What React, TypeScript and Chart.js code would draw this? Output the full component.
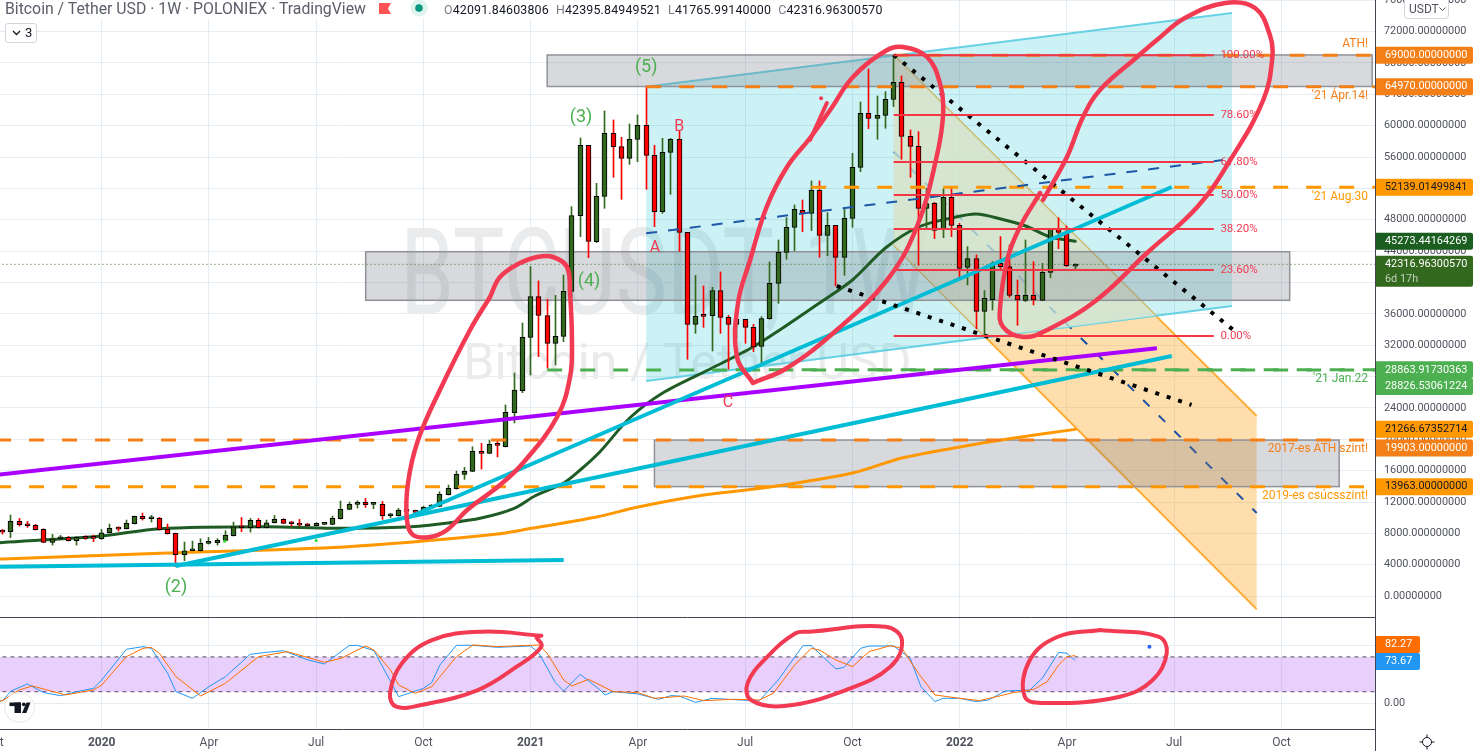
import React, { useEffect, useRef } from "react";
import { Chart, registerables } from "chart.js";

Chart.register(...registerables);

// ---- weekly candles (index 0 = first visible week, 130 = last week) ----
const opens = [8250,8210,9530,9145,9020,8510,6850,7320,7490,7060,7445,7400,7320,8080,8635,8590,9230,10165,9870,9910,8505,8000,5275,5785,5785,6720,6805,7105,7700,8845,8720,9655,8720,9360,9785,9270,9270,9100,8975,9145,9145,9870,11060,11695,11950,11695,11695,10250,10250,10930,10805,10635,11315,11440,12930,13695,15520,15905,18455,18200,19305,19056,23392,26198,33010,38197,35773,32244,33137,38877,48528,57500,45212,50994,59030,57329,55841,58265,60051,56224,49038,56606,58265,46402,34668,35816,35773,38962,35561,34668,35306,34285,31861,35391,39897,43851,47040,49209,48826,51760,46020,47296,43214,48188,54693,61581,60943,61326,63367,65535,58647,57371,49464,50101,46785,50866,47296,41938,43044,36326,37814,42448,42023,38367,37730,38367,37730,41300,46785,46402,42091.85];
const highs = [8510,10335,9910,9530,9145,8590,7870,7740,7615,7570,7700,7785,8505,9190,8845,9700,10210,10590,10295,10040,9190,8040,6890,7020,7320,7485,7320,8335,9440,10040,9910,9910,9700,10295,9870,9525,9780,9270,9360,9270,10210,12120,11995,12165,12460,11950,12080,10550,11185,11015,10975,11485,11695,13310,14160,15950,16415,19050,19475,19900,19755,24375,28456,34834,42023,40195,37857,38367,40960,49676,58434,57500,52652,61879,60730,58520,60220,61368,64970,57500,58392,58392,59370,46402,40918,39558,39387,41343,35816,36581,35306,34668,35646,42619,45425,48273,49889,50527,52950,52950,48911,47296,49464,56479,63027,67235,63792,64344,69000,66343,59455,59242,52015,50229,51972,52227,47550,44573,43511,38962,42661,45850,44787,40323,45425,42661,42448,46870,48273,47210,42395.85];
const lows = [7910,7445,8930,8760,8420,6805,6510,7230,7020,6510,7230,6935,7230,8040,8295,8550,9190,9700,9440,8420,7910,3745,4510,5785,5745,6635,6510,7060,7655,8210,8170,8680,8680,9315,9230,8930,8930,8930,8930,9100,9100,9825,11015,11230,11315,11145,9780,9995,10210,10760,10550,10590,11270,11400,12885,13650,14885,15860,16200,18160,17750,19018,22079,25943,28205,30544,29056,29481,32457,38197,45850,43171,45085,49464,53417,50612,55076,55416,51887,47125,48826,51250,43979,30204,33520,34285,31267,33520,28928,32882,32244,31182,29481,35306,37346,42959,44064,46487,46615,43214,43426,39558,40918,47040,54140,59625,58265,59668,62431,55714,53417,42194,46913,45595,45722,45850,40620,39685,34116,33087,36496,41683,38112,34541,37559,37134,37730,40620,44320,42023,41765.99];
const closes = [8170,9530,9100,8975,8465,6850,7320,7445,7060,7490,7360,7360,8080,8635,8550,9270,10165,9870,9910,8465,7955,5275,5785,5870,6720,6850,7105,7740,8845,8720,9655,8720,9360,9785,9270,9230,9060,8975,9270,9230,9910,11060,11695,11950,11650,11740,10250,10335,10930,10805,10675,11315,11440,12970,13735,15520,15905,18455,18200,19350,19220,23444,26288,33010,38197,35816,32244,33137,38877,48528,57500,45254,50994,59030,57329,55841,58265,60051,56224,49038,56606,58265,46402,34668,35688,35688,38962,35561,34668,35306,34285,31777,35391,39897,43851,47040,49336,48784,51760,46020,47296,43214,48188,54693,61581,60943,61326,63367,65535,58647,57371,49464,50059,46657,50866,47296,41811,43044,36326,37984,42448,42023,38367,37772,38367,37772,41300,46870,46402,42150,42316.96];

// ---- moving averages: [week, price] ----
const ma50: number[][] = [[-1,6760],[0,6836],[12,7666],[19,8597],[32,8852],[40,8648],[49,8814],[54,9324],[58,9962],[62,11199],[64.5,12767],[68,14426],[70,16084],[72.4,18418],[76,22717],[80,25906],[86,29095],[91,31811],[94,33813],[99,37385],[103,40319],[107,44400],[111,47079],[115,48227],[118,48737],[121,48099],[124,47206],[127,45803],[130,45273]];
const ma200: number[][] = [[-1,4700],[0,4732],[20,5497],[40,6199],[51,7028],[60,7921],[63,8431],[72,10089],[77,11364],[85,12895],[93,13915],[103,15701],[109,17615],[116,19018],[121,19910],[130,21267]];

// ---- stochastic RSI: [week, value] ----
const stochK: number[][] = [[-1,3],[0,4.6],[1,21.2],[3,33.3],[5,18.4],[7,13.2],[9,20.1],[11,25.8],[12,40.2],[15,93.1],[17,97.7],[18,94.8],[20,51.7],[21,20.1],[23,8.6],[25,28.7],[27,45.9],[30,84.5],[32,87.9],[34,90.8],[37,74.7],[39,67.8],[42,99.4],[43,100],[45,90.8],[48,11.5],[51,25.8],[52,35.6],[53,66.1],[55,100],[57,100],[60,96.5],[62,97.7],[64,98.8],[65,86.2],[67,35.6],[68,21.2],[70,50],[72.4,23],[73,14.4],[74,20.1],[77,16.1],[79.5,6.9],[81,13.2],[82,12.6],[84,1.7],[86,8.6],[88,6.9],[91.7,4],[94,40.2],[97,99.4],[98,99.4],[101,59.2],[102,62.1],[104,94.8],[105,98.8],[108,98.8],[110,77.6],[111.3,28.7],[113,2.9],[114,8.6],[116,8.6],[118,2.9],[119.5,5.7],[121.5,21.2],[124.5,23],[126,43.1],[128,87.9],[129,86.2],[130,73.67]];
const stochD: number[][] = [[-1,3],[0,4.6],[2,23],[3.6,29.9],[5.7,21.8],[7.6,14.4],[11,23],[12,31.6],[15,80.4],[17,94.8],[18,96.5],[19,86.2],[21,46],[24,12.6],[27,34.5],[31,80.4],[34.5,89],[39,70.7],[41,77.6],[44,98.8],[45,91.9],[47,57.5],[48,31.6],[50,17.2],[52,28.7],[55,80.4],[57,100.6],[60,97.7],[65,100.6],[66,86.2],[68,40.2],[69,29.9],[71,41.4],[72.4,31.6],[74,20.1],[77,18.4],[79,8.6],[82.6,12.6],[85,4.6],[88.6,6.9],[91.7,5.7],[93.4,17.2],[96,66.1],[98,94.8],[99,91.9],[101,74.7],[103,63.2],[105,89],[107.6,99.4],[109,94.8],[111,51.7],[113,14.4],[116,8.6],[118.4,4.6],[122.5,18.4],[125,24.1],[126.6,37.3],[128,66.1],[129,80.4],[130,82.27]];

// ---- axes ----
const yTicks = [0,4000,8000,12000,16000,20000,24000,28000,32000,36000,40000,44000,48000,52000,56000,60000,64000,68000,72000,76000];
const xTicks = [-1,12,25,38,51,64,77,90,103,116,129,142,155];
const xLabels = ["Oct","2020","Apr","Jul","Oct","2021","Apr","Jul","Oct","2022","Apr","Jul","Oct"];

// ---- hand drawn levels and trend lines: [week, price] ----
const level69000 = [[108,69000],[167,69000]];
const level64970 = [[78,64970],[167,64970]];
const level52139 = [[98,52139.01],[167,52139.01]];
const level28826 = [[66,28826.53],[167,28826.53]];
const level28863 = [[88.85,28863.92],[167,28863.92]];
const level19903 = [[-0.8,19903],[167,19903]];
const level13963 = [[-0.8,13963],[167,13963]];
const lastPriceLine = [[-1,42316.96],[167,42316.96]];
const trendFlat = [[-1,3750],[68,4605]];
const trendLow = [[21,3839],[141.7,30625]];
const trendSteep = [[49,9961],[141.7,52180]];
const trendPurple = [[-1,15446],[139.9,31607]];
const navyUp = [[78,46275],[147.9,55625]];
const navyDown = [[108,56684],[152,10599]];
const dottedDown = [[108,69020],[149.1,34000]];
const dottedLow = [[101.1,39553],[144.1,24380]];
const fibLevels = [69000,61364,55373,51163,46825,41596,33176];
const fibNames = ["100.00%","78.60%","61.80%","50.00%","38.20%","23.60%","0.00%"];
const cyanTop = [[78,64970],[149,74375]];
const cyanBottom = [[78,27436],[149,37002]];
const orangeTop = [[108,69000],[152,22972]];
const orangeBottom = [[108,44783],[152,-1684]];
const zoneLeft = [66,44,79];
const zoneRight = [166,156,162];
const zoneTop = [69020,43927,19903];
const zoneBottom = [65000,37729,13963];

// ---- freehand red strokes ----
const loopA = [[59.07,38150],[56.65,33941],[53,26288],[50.35,19910],[49.13,14426],[49,9706],[49.74,7793],[51.8,7538],[53.85,8431],[56.3,10982],[60.28,14171],[63.07,16977],[67.2,22844],[68.77,27946],[69,32665],[68.77,38660],[68.4,41977],[66.7,43252],[64.77,43252],[62.7,42487],[60.28,40701],[59.07,38150]];
const loopB = [[90.95,27181],[89,30497],[89.13,37385],[90.6,42870],[92.6,49630],[95.07,54732],[97.86,58431],[100.3,62002],[103.07,66211],[107.2,69655],[109.1,70038],[112.04,68762],[113.6,65446],[114,61619],[113.2,56007],[110.8,47079],[107.2,40319],[101.1,33941],[95.07,29094],[90.95,27181]];
const strokeB = [[97.86,58176],[99.9,62894]];
const loopC = [[125.74,51415],[123.3,47079],[121.86,43252],[120.9,36875],[121.25,34325],[123.7,33048],[126.6,33941],[132.6,37767],[138.7,43762],[144.8,49630],[148.8,55625],[152.8,63277],[153.9,68762],[153.6,71568],[151.8,75012],[148.2,75649],[143.3,73737],[139.9,70930],[137.5,68762],[133,64553],[130.95,61109],[129,56007],[126.1,50523]];
const ovalA = [[65.3,116.6],[58.1,123.4],[52.04,109.1],[48.4,69],[46.95,17.2],[47.7,-5.9],[50.7,-2.9],[57.6,22.9],[62.3,63.1],[65.3,97.6],[64.65,114.8]];
const ovalB = [[97.8,123.4],[107,132.1],[109,109.1],[107.6,63.1],[102.2,22.9],[94.7,-4.7],[90.7,5.7],[90.3,35],[92.7,80.3],[96.1,120.7],[97.8,123.4]];
const ovalC = [[133,126.4],[140.1,114.8],[141.1,86.7],[139.4,40.2],[135.4,11.4],[126.6,0.5],[123.9,11.4],[124.5,74.7],[127.9,114.8],[133,126.4]];
const redSpot = [[99.2,63500]];
const limeSpots = [[26.9,7000],[38,7100]];
const blueSpot = [[139,97.6]];

// ---- chart notes ----
const waveText = ["(5)","(3)","(4)","(2)"];
const waveWeek = [78,70.1,71.07,21];
const wavePrice = [67487,60982,40191,1033];
const abcText = ["A","B","C"];
const abcWeek = [79.07,82,87.92];
const abcPrice = [44400,59833,24630];
const sideText = ["ATH!","'21 Ápr.14!","'21 Aug.30","'21 Jan.22","2017-es ATH szint!","2019-es csúcsszint!"];
const sidePrice = [70420,63790,50905,27690,18725,12770];
const sideColor = ["#f57f17","#f57f17","#ff9800","#4caf50","#f57f17","#ff9800"];
const tagPrice = [69000,64970,52139.01499841,45273.44164269,42316.9630057,28863.91730363,28826.53061224,21266.67352714,19903,13963];
const tagFill = ["#f57f17","#f57f17","#ff9800","#1b5e20","#33691e","#4caf50","#4caf50","#ff9800","#f57f17","#ff9800"];
const tagInk = ["#fff","#fff","#131722","#fff","#fff","#fff","#fff","#131722","#fff","#131722"];
const tagNudge = [0,0,0,0,0,0,16.5,0,8,0];

const RED = "#f23a52";
const pts = (a: number[][]) => a.map(([x, y]) => ({ x, y }));
const UI = "Roboto, 'Liberation Sans', sans-serif";

const straight = (data: number[][], color: string, width: number, order: number, dash: number[] = [], yAxisID = "y") => ({
  type: "line", data: pts(data), borderColor: color, borderWidth: width, borderDash: dash,
  pointRadius: 0, tension: 0, order, yAxisID, xAxisID: "x", fill: false,
});
const curve = (data: number[][], color: string, width: number, order: number, yAxisID = "y", tension = 0.4) => ({
  type: "line", data: pts(data), borderColor: color, borderWidth: width, pointRadius: 0, tension,
  capBezierPoints: false, order, yAxisID, xAxisID: "x", fill: false, borderCapStyle: "round", borderJoinStyle: "round",
});
const spots = (data: number[][], color: string, r: number, yAxisID = "y") => ({
  type: "line", data: pts(data), showLine: false, pointRadius: r, pointBackgroundColor: color, pointBorderWidth: 0, order: 1, yAxisID, xAxisID: "x",
});
const noPadding = (s: any) => { s.paddingLeft = 0; s.paddingRight = 0; s.paddingTop = 0; s.paddingBottom = 0; };

const closesRsi = { k: 73.67, d: 82.27 };

const tradingPlugin = {
  id: "trading",
  afterDatasetsUpdate(chart: any) {
    chart.data.datasets.forEach((d: any, idx: number) => {
      if (d.type !== "bar") return;
      chart.getDatasetMeta(idx).data.forEach((el: any) => { el.x = Math.round(el.x - 0.5) + 0.5; });
    });
  },
  beforeDatasetsDraw(chart: any) {
    const { ctx, scales } = chart;
    const X = (v: number) => scales.x.getPixelForValue(v);
    const Y = (v: number) => scales.y.getPixelForValue(v);
    const pane = scales.y;
    ctx.save();
    ctx.beginPath();
    ctx.rect(0, pane.top, scales.x.right, pane.bottom - pane.top);
    ctx.clip();

    // watermark
    ctx.fillStyle = "#eaebed";
    ctx.textAlign = "left";
    ctx.textBaseline = "alphabetic";
    ctx.save();
    ctx.translate(X(48.2), Y(36000));
    ctx.scale(0.72, 1);
    ctx.font = `120px ${UI}`;
    ctx.fillText("BTCUSDT, 1W", 0, 0);
    ctx.restore();
    ctx.font = `50px ${UI}`;
    ctx.textAlign = "center";
    ctx.fillText("Bitcoin / Tether USD", X(83), Y(27700));

    const trace = (a: number[][], b: number[][]) => {
      ctx.moveTo(X(a[0][0]), Y(a[0][1]));
      ctx.lineTo(X(a[1][0]), Y(a[1][1]));
      ctx.lineTo(X(b[1][0]), Y(b[1][1]));
      ctx.lineTo(X(b[0][0]), Y(b[0][1]));
      ctx.closePath();
    };
    const band = (a: number[][], b: number[][], fill: string, stroke: string) => {
      ctx.fillStyle = fill;
      ctx.beginPath();
      trace(a, b);
      ctx.fill();
      ctx.strokeStyle = stroke;
      ctx.lineWidth = 2;
      [a, b].forEach((e) => {
        ctx.beginPath();
        ctx.moveTo(X(e[0][0]), Y(e[0][1]));
        ctx.lineTo(X(e[1][0]), Y(e[1][1]));
        ctx.stroke();
      });
    };
    band(orangeTop, orangeBottom, "rgba(255,152,0,0.32)", "rgba(255,167,38,0.9)");

    // blue dashed line lies over the orange band and under the cyan channel
    ctx.strokeStyle = "#1a4fa3";
    ctx.lineWidth = 2;
    ctx.setLineDash([9, 13]);
    ctx.beginPath();
    ctx.moveTo(X(navyDown[0][0]), Y(navyDown[0][1]));
    ctx.lineTo(X(navyDown[1][0]), Y(navyDown[1][1]));
    ctx.stroke();
    ctx.setLineDash([]);

    band(cyanTop, cyanBottom, "rgba(0,188,212,0.2)", "rgba(90,205,225,0.9)");

    // where the orange band and the cyan channel overlap
    ctx.save();
    ctx.beginPath();
    trace(orangeTop, orangeBottom);
    ctx.clip();
    ctx.beginPath();
    trace(cyanTop, cyanBottom);
    ctx.clip();
    ctx.fillStyle = "rgba(216,234,218,0.72)";
    ctx.fillRect(0, 0, 1375, 617);
    ctx.restore();

    zoneLeft.forEach((l, k) => {
      const x = X(l), y = Y(zoneTop[k]);
      const w = X(zoneRight[k]) - x, h = Y(zoneBottom[k]) - y;
      ctx.fillStyle = "rgba(120,123,134,0.29)";
      ctx.fillRect(x, y, w, h);
      ctx.strokeStyle = "#909298";
      ctx.lineWidth = 1.5;
      ctx.strokeRect(x, y, w, h);
    });
    ctx.restore();
  },
  afterDraw(chart: any) {
    const { ctx, scales } = chart;
    const X = (v: number) => scales.x.getPixelForValue(v);
    const Y = (v: number) => scales.y.getPixelForValue(v);
    const R = (v: number) => scales.yRsi.getPixelForValue(v);
    ctx.save();

    // pane frame
    ctx.strokeStyle = "#434651";
    ctx.lineWidth = 1;
    ctx.beginPath();
    ctx.moveTo(0, 617.5); ctx.lineTo(1375, 617.5);
    ctx.moveTo(0, 729.5); ctx.lineTo(1375, 729.5);
    ctx.moveTo(1375.5, 0); ctx.lineTo(1375.5, 751);
    ctx.stroke();

    // notes
    ctx.textBaseline = "middle";
    ctx.textAlign = "center";
    ctx.fillStyle = "#4caf50";
    ctx.font = `18px ${UI}`;
    waveText.forEach((t, k) => ctx.fillText(t, X(waveWeek[k]), Y(wavePrice[k])));
    ctx.fillStyle = RED;
    ctx.font = `16px ${UI}`;
    abcText.forEach((t, k) => ctx.fillText(t, X(abcWeek[k]), Y(abcPrice[k])));
    ctx.textAlign = "left";
    ctx.font = `11.5px ${UI}`;
    fibNames.forEach((t, k) => ctx.fillText(t, X(147.6), Y(fibLevels[k])));
    ctx.textAlign = "right";
    ctx.font = `12px ${UI}`;
    sideText.forEach((t, k) => {
      ctx.fillStyle = sideColor[k];
      ctx.fillText(t, X(165.5), Y(sidePrice[k]));
    });

    // price tags
    ctx.font = `10.9px ${UI}`;
    tagPrice.forEach((p, k) => {
      const y = Y(p) + tagNudge[k];
      const big = k === 4;
      ctx.fillStyle = tagFill[k];
      ctx.beginPath();
      ctx.roundRect(1376, y - 8.5, 97, big ? 31 : 17, [0, 2, 2, 0]);
      ctx.fill();
      ctx.fillStyle = tagInk[k];
      ctx.textAlign = "left";
      ctx.fillText(p.toFixed(8), 1385, y);
      if (big) {
        ctx.fillStyle = "#c4d2bc";
        ctx.fillText("6d 17h", 1385, y + 14.5);
      }
    });
    const rsiTags = [closesRsi.d, closesRsi.k];
    const rsiFill = ["#ff6d00", "#2196f3"];
    rsiTags.forEach((v, k) => {
      const y = R(v) + (k === 0 ? -11 : 1);
      ctx.fillStyle = rsiFill[k];
      ctx.beginPath();
      ctx.roundRect(1376, y - 8.5, 44, 17, [0, 2, 2, 0]);
      ctx.fill();
      ctx.fillStyle = "#fff";
      ctx.fillText(v.toFixed(2), 1385, y);
    });

    // logo
    ctx.fillStyle = "#fff";
    ctx.strokeStyle = "#e6e7ea";
    ctx.beginPath();
    ctx.arc(19.5, 707.5, 15, 0, Math.PI * 2);
    ctx.fill();
    ctx.stroke();
    ctx.fillStyle = "#131722";
    ctx.fillRect(9.5, 702.5, 11.5, 3.6);
    ctx.fillRect(14.5, 702.5, 6.5, 10.5);
    ctx.beginPath();
    ctx.arc(23.8, 704.3, 1.9, 0, Math.PI * 2);
    ctx.fill();
    ctx.beginPath();
    ctx.moveTo(26.5, 702.5); ctx.lineTo(30.5, 702.5); ctx.lineTo(26.3, 713); ctx.lineTo(22, 713);
    ctx.closePath();
    ctx.fill();

    // gear
    ctx.strokeStyle = "#131722";
    ctx.lineWidth = 1;
    ctx.beginPath();
    ctx.arc(1427, 742, 4.5, 0, Math.PI * 2);
    ctx.moveTo(1427, 734.5); ctx.lineTo(1427, 737.5);
    ctx.moveTo(1427, 746.5); ctx.lineTo(1427, 749.5);
    ctx.moveTo(1419.5, 742); ctx.lineTo(1422.5, 742);
    ctx.moveTo(1431.5, 742); ctx.lineTo(1434.5, 742);
    ctx.stroke();
    ctx.restore();
  },
};

export default function App() {
  const ref = useRef<HTMLCanvasElement>(null);
  useEffect(() => {
    const weeks = opens.map((_, i) => i);
    const up = (i: number) => closes[i] >= opens[i];
    const wickColors = weeks.map((i) => (up(i) ? "#33691e" : "#ff0000"));
    const bodyColors = weeks.map((i) => (up(i) ? "#33691e" : "#ff0000"));
    const chart = new Chart(ref.current as HTMLCanvasElement, {
      type: "bar",
      data: {
        datasets: [
          { type: "bar", data: weeks.map((i) => ({ x: i, y: [lows[i], highs[i]] })), backgroundColor: wickColors, barThickness: 1, grouped: false, order: 31, yAxisID: "y", xAxisID: "x" },
          { type: "bar", data: weeks.map((i) => ({ x: i, y: [opens[i], closes[i]] })), backgroundColor: bodyColors, borderColor: "#000", borderWidth: 1, borderSkipped: false, barThickness: 5, minBarLength: 2, grouped: false, order: 30, yAxisID: "y", xAxisID: "x" },

          curve(ma200, "#ff9800", 3, 40, "y", 0.3),
          curve(ma50, "#1f5c25", 3, 39, "y", 0.3),
          straight(lastPriceLine, "#33691e", 1, 41, [1, 3]),

          straight(level69000, "#f57f17", 3, 20, [15, 18]),
          straight(level64970, "#f57f17", 3, 20, [15, 18]),
          straight(level52139, "#ff9800", 3, 20, [15, 18]),
          straight(level19903, "#f57f17", 3, 20, [15, 18]),
          straight(level13963, "#ff9800", 3, 20, [15, 18]),
          straight(level28826, "#4caf50", 3, 20, [15, 18]),
          straight(level28863, "#4caf50", 3, 20, [15, 18]),
          straight(trendPurple, "#aa00ff", 4, 19),
          straight(trendFlat, "#00bcd4", 4, 18),
          straight(trendLow, "#00bcd4", 4, 18),
          straight(trendSteep, "#00bcd4", 4, 18),
          straight(navyUp, "#1c57a8", 2, 17, [11, 11]),
          straight(dottedDown, "#000", 4, 16, [4, 8]),
          straight(dottedLow, "#000", 4, 16, [4, 8]),
          ...fibLevels.map((v) => straight([[108, v], [146.8, v]], "#f23645", 2, 15)),

          // stochastic RSI pane
          { type: "line", data: pts([[-1, 80], [167, 80]]), borderColor: "#4f4a58", borderWidth: 1, borderDash: [4, 4], pointRadius: 0, fill: "+1", backgroundColor: "rgba(171,71,240,0.26)", order: 14, yAxisID: "yRsi", xAxisID: "x" },
          { type: "line", data: pts([[-1, 20], [167, 20]]), borderColor: "#4f4a58", borderWidth: 1, borderDash: [4, 4], pointRadius: 0, fill: false, order: 14, yAxisID: "yRsi", xAxisID: "x" },
          straight(stochK, "#2196f3", 1, 13, [], "yRsi"),
          straight(stochD, "#ff6d00", 1, 12, [], "yRsi"),

          // freehand
          curve(loopA, RED, 4.5, 3),
          curve(loopB, RED, 4.5, 3),
          curve(loopC, RED, 4.5, 3),
          curve(strokeB, RED, 4, 3),
          curve(ovalA, RED, 4, 3, "yRsi"),
          curve(ovalB, RED, 4, 3, "yRsi"),
          curve(ovalC, RED, 4, 3, "yRsi"),
          spots(redSpot, RED, 2),
          spots(limeSpots, "#22e02c", 1.5),
          spots(blueSpot, "#2962ff", 2, "yRsi"),
        ] as any,
      },
      options: {
        responsive: false,
        animation: false,
        events: [],
        layout: { padding: 0, autoPadding: false },
        plugins: { legend: { display: false }, tooltip: { enabled: false }, title: { display: false } },
        scales: {
          x: {
            type: "linear",
            offset: false,
            min: -0.324,
            max: 166.34,
            afterBuildTicks: (s: any) => { s.ticks = xTicks.map((value) => ({ value })); },
            afterFit: (s: any) => { s.height = 22; noPadding(s); },
            grid: { color: "#e6edf2", drawTicks: false, offset: false },
            border: { display: false },
            ticks: {
              autoSkip: false,
              maxRotation: 0,
              padding: 7,
              color: "#50535e",
              callback: (v: any) => xLabels[xTicks.indexOf(Number(v))],
              font: (c: any) => ({ family: UI, size: 12, weight: /^\d/.test(xLabels[xTicks.indexOf(c.tick?.value)] ?? "") ? "bold" : "normal" }),
            },
          },
          y: {
            type: "linear",
            position: "right",
            stack: "panes",
            stackWeight: 617,
            weight: 0,
            min: -2666,
            max: 76033,
            afterBuildTicks: (s: any) => { s.ticks = yTicks.map((value) => ({ value })); },
            afterFit: (s: any) => { s.width = 100; noPadding(s); },
            grid: { color: "#e6edf2", drawTicks: false },
            border: { display: false },
            ticks: { autoSkip: false, padding: 9, color: "#50535e", font: { family: UI, size: 10.9 }, callback: (v: any) => Number(v).toFixed(8) },
          },
          yRsi: {
            type: "linear",
            position: "right",
            stack: "panes",
            stackWeight: 112,
            weight: 1,
            min: -44.3,
            max: 148.8,
            afterBuildTicks: (s: any) => { s.ticks = [0, 100].map((value) => ({ value })); },
            afterFit: (s: any) => { s.width = 100; noPadding(s); },
            grid: { color: "#e6edf2", drawTicks: false },
            border: { display: false },
            ticks: { autoSkip: false, padding: 9, color: "#50535e", font: { family: UI, size: 10.9 }, callback: (v: any) => Number(v).toFixed(2) },
          },
        },
      } as any,
      plugins: [tradingPlugin],
    });
    return () => chart.destroy();
  }, []);

  const abs = (left: number, top: number, extra: React.CSSProperties = {}): React.CSSProperties => ({ position: "absolute", left, top, whiteSpace: "nowrap", ...extra });
  const ohlc = [["O", "42091.84603806"], ["H", "42395.84949521"], ["L", "41765.99140000"], ["C", "42316.96300570"]];

  return (
    <div style={{ position: "fixed", left: 0, top: 0, width: 1475, height: 751, background: "#fff", overflow: "hidden", fontFamily: UI }}>
      <canvas ref={ref} width={1475} height={751} style={{ display: "block" }} />
      <div style={abs(0, 0, { width: 885, height: 19, background: "rgba(255,255,255,0.85)" })} />
      <div style={abs(5, -1, { fontSize: 15.8, lineHeight: "19px", color: "#5b5e69" })}>Bitcoin / Tether USD · 1W · POLONIEX · TradingView</div>
      <svg style={abs(379, 3)} width="13" height="12"><path d="M0 0H12L9 5.5L12 11H0Z" fill="#ff5252" /></svg>
      <svg style={abs(409, 0)} width="20" height="18"><circle cx="10" cy="8" r="8.5" fill="#dff3ef" /><circle cx="10" cy="8" r="3.8" fill="#089981" /></svg>
      <div style={abs(444, 0, { fontSize: 12.4, lineHeight: "19px", color: "#131722", display: "flex", gap: 7, letterSpacing: 0.17 })}>
        {ohlc.map(([k, v]) => (
          <span key={k}><span style={{ color: "#787b86" }}>{k}</span>{v}</span>
        ))}
      </div>
      <div style={abs(5, 23, { width: 30, height: 18, border: "1px solid #d1d4dc", borderRadius: 3, background: "#fff", fontSize: 13, lineHeight: "18px", color: "#131722" })}>
        <svg style={{ position: "absolute", left: 6, top: 6 }} width="9" height="6"><path d="M1 1L4.5 4.5L8 1" fill="none" stroke="#131722" strokeWidth="1.3" /></svg>
        <span style={{ position: "absolute", left: 19, top: 0 }}>3</span>
      </div>
      <div style={abs(1404, -2, { width: 43, height: 19, border: "1px solid #d1d4dc", borderRadius: "0 0 4px 4px", background: "#fff", fontSize: 12, lineHeight: "20px", color: "#50535e" })}>
        <span style={{ position: "absolute", left: 4, top: 0 }}>USDT</span>
        <svg style={{ position: "absolute", left: 34, top: 8 }} width="7" height="5"><path d="M0.5 0.5L3.5 3.5L6.5 0.5" fill="none" stroke="#50535e" strokeWidth="1" /></svg>
      </div>
    </div>
  );
}
